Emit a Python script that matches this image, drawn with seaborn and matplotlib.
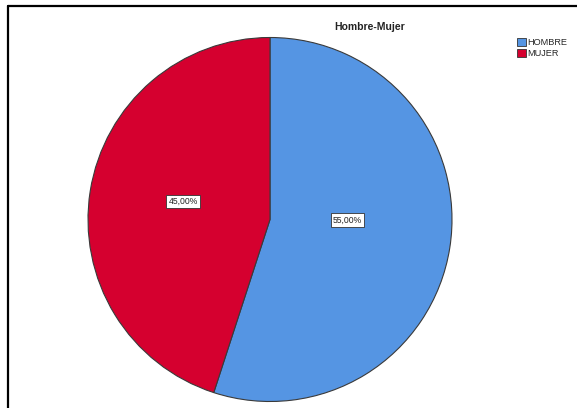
import matplotlib
matplotlib.use("Agg")
import matplotlib.pyplot as plt
from matplotlib.lines import Line2D
from matplotlib.patches import Patch
import seaborn as sns

categories = ["HOMBRE", "MUJER"]
values = [55.0, 45.0]
title = "Hombre-Mujer"

sns.set_theme(style="white")
plt.rcParams["font.family"] = ["Liberation Sans", "DejaVu Sans"]

colors = ["#5595E3", "#D5002F"]

W, H = 577, 408
fig = plt.figure(figsize=(W / 100, H / 100), dpi=100)
fig.patch.set_facecolor("white")

cx, cy, r = 270, 219.5, 182
ax = fig.add_axes([(cx - r) / W, (H - cy - r) / H, 2 * r / W, 2 * r / H])

wedges, texts, autotexts = ax.pie(
    values,
    colors=colors,
    startangle=90,
    counterclock=False,
    autopct=lambda p: f"{p:.2f}%".replace(".", ","),
    pctdistance=0.47,
    wedgeprops=dict(edgecolor="#3a3a3a", linewidth=0.8),
    textprops=dict(fontsize=6.2, color="#222222"),
)
# label anchor points inside each slice
label_pos = [(0.425, -0.003), (-0.477, 0.098)]
for t, pos in zip(autotexts, label_pos):
    t.set_position(pos)
    t.set_bbox(dict(boxstyle="square,pad=0.25", facecolor="white",
                    edgecolor="#333333", linewidth=0.6))
ax.set_xlim(-1, 1)
ax.set_ylim(-1, 1)
ax.set_aspect("equal")
ax.axis("off")

fig.text(370 / W, 1 - 27 / H, title, ha="center", va="center",
         fontsize=7.5, fontweight="bold", color="#222222")

handles = [Patch(facecolor=c, edgecolor="#333333", linewidth=0.6) for c in colors]
fig.legend(handles, categories, loc="upper left",
           bbox_to_anchor=(517 / W, 1 - 38 / H), frameon=False,
           fontsize=6.6, handlelength=0.95, handleheight=0.95,
           handletextpad=0.2, labelspacing=0.2, borderpad=0, borderaxespad=0)

# outer frame lines (top and left)
fig.add_artist(Line2D([8 / W, 8 / W], [0, 1 - 6 / H], transform=fig.transFigure,
                      color="black", linewidth=1.6))
fig.add_artist(Line2D([8 / W, 1], [1 - 6 / H, 1 - 6 / H], transform=fig.transFigure,
                      color="black", linewidth=1.6))

fig.savefig("out.png", dpi=100, facecolor="white")
